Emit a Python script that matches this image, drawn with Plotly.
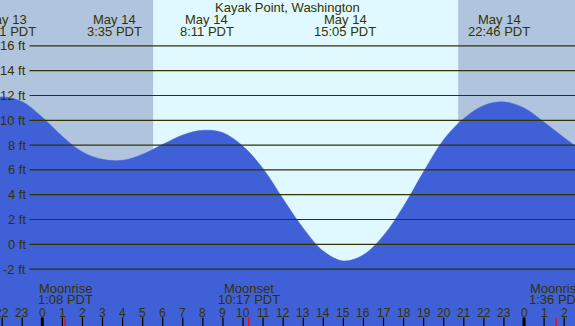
import plotly.graph_objects as go

# ---- data ----
hours = list(range(-3, 28))
heights = [11.5, 11.88, 11.5, 10.25, 8.7, 7.45, 6.85, 6.77, 7.26, 8.06, 8.82, 9.19,
           9.0, 7.9, 6.1, 3.65, 1.3, -0.55, -1.34, -0.85, 0.7, 3.07, 5.86, 8.45,
           10.15, 11.2, 11.48, 11.0, 9.85, 8.6, 7.4]

title = "Kayak Point, Washington"
tide_hours = [-1.817, 3.583, 8.183, 15.083, 22.767]
tide_dates = ["May 13", "May 14", "May 14", "May 14", "May 14"]
tide_times = ["22:11 PDT", "3:35 PDT", "8:11 PDT", "15:05 PDT", "22:46 PDT"]

sunrise_h = 5.52
sunset_h = 20.72

moon_hours = [1.133, 10.283, 25.6]
moon_names = ["Moonrise", "Moonset", "Moonrise"]
moon_times = ["1:08 PDT", "10:17 PDT", "1:36 PDT"]

grid_ft = [-2, 0, 2, 4, 6, 8, 10, 12, 14, 16]
hour_ticks = list(range(-2, 27))
midnights = [0, 24]

# ---- styles ----
W, H = 575, 326
NIGHT = "#B0C4DE"
DAY = "#E0F8FF"
WATER = "#4060D8"
INK = "#333300"
FONT = "Liberation Sans, Arial, sans-serif"

x_range = [-2.108, 26.54]
y_range = [-6.59, 19.70]

fig = go.Figure()
fig.add_trace(go.Scatter(x=[hours[0], hours[-1]], y=[-10, -10], mode="lines",
                         line=dict(width=0), hoverinfo="skip", showlegend=False))
fig.add_trace(go.Scatter(x=hours, y=heights, mode="lines", fill="tonexty",
                         fillcolor=WATER, line=dict(color=WATER, width=0.5, shape="spline"),
                         hoverinfo="skip", showlegend=False))

shapes = []
# daytime band
shapes.append(dict(type="rect", xref="x", yref="paper", x0=sunrise_h, x1=sunset_h,
                   y0=0, y1=1, fillcolor=DAY, line=dict(width=0), layer="below"))
# gridlines
for g in grid_ft:
    shapes.append(dict(type="line", xref="paper", yref="y", x0=29.5 / W, x1=1,
                       y0=g, y1=g, line=dict(color=INK, width=1.2), layer="above"))
# hour ticks
for h in hour_ticks:
    wdt = 3 if h in midnights else 1.2
    shapes.append(dict(type="line", xref="x", yref="paper", x0=h, x1=h,
                       y0=0, y1=8.5 / H, line=dict(color="#000000", width=wdt), layer="above"))
# moon ticks
for m in moon_hours:
    shapes.append(dict(type="line", xref="x", yref="paper", x0=m, x1=m,
                       y0=0, y1=8.5 / H, line=dict(color="#FF0000", width=1.2), layer="above"))

ann = []
def txt(text, x, y, xref="x", yref="paper", xanchor="center", size=13):
    ann.append(dict(text=text, x=x, y=y, xref=xref, yref=yref, xanchor=xanchor,
                    yanchor="middle", showarrow=False,
                    font=dict(family=FONT, size=size, color=INK)))

txt(title, 0.5, 1 - 7.5 / H, xref="paper")
for th, d, t in zip(tide_hours, tide_dates, tide_times):
    txt(d, th, 1 - 19.5 / H)
    txt(t, th, 1 - 31.5 / H)
for g in grid_ft:
    txt(f"{g} ft", 27.5 / W, g, xref="paper", yref="y", xanchor="right")
for h in hour_ticks:
    txt(str(h % 24), h, 1 - 312.5 / H, size=12)
for m, n, t in zip(moon_hours, moon_names, moon_times):
    txt(n, m, 1 - 288 / H)
    txt(t, m, 1 - 299.5 / H)

fig.update_layout(
    width=W, height=H, margin=dict(l=0, r=0, t=0, b=0),
    paper_bgcolor=NIGHT, plot_bgcolor=NIGHT,
    xaxis=dict(range=x_range, visible=False, fixedrange=True),
    yaxis=dict(range=y_range, visible=False, fixedrange=True),
    shapes=shapes, annotations=ann, showlegend=False,
)
fig.write_html("out.html", config={"displayModeBar": False},
               post_script="document.body.style.margin='0';document.body.style.overflow='hidden';")
